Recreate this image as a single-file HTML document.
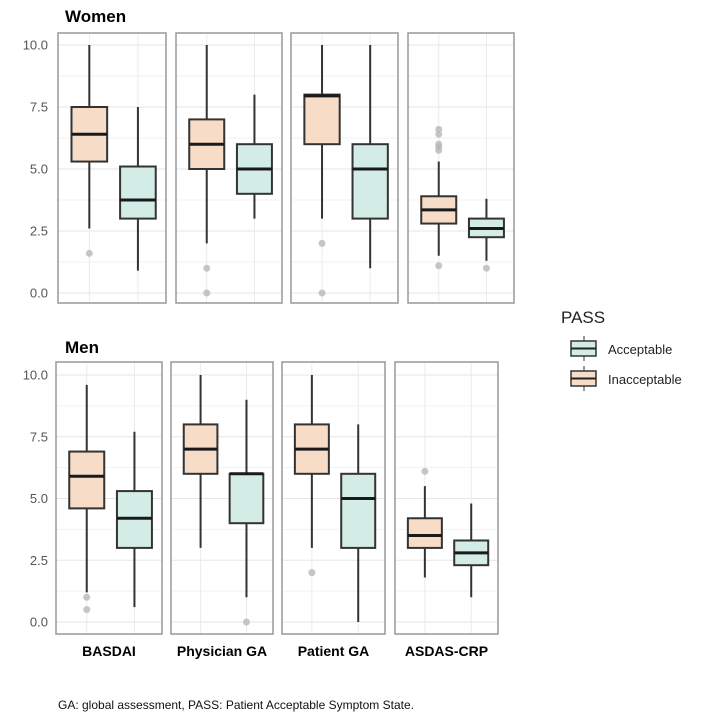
<!DOCTYPE html>
<html><head><meta charset="utf-8"><style>
body{margin:0;background:#fff;width:721px;height:717px;overflow:hidden;font-family:"Liberation Sans",sans-serif}
</style></head><body>
<svg id="chart" width="721" height="717" xmlns="http://www.w3.org/2000/svg">
<g id="plot"></g>
<text x="65" y="22" font-size="17" font-weight="bold">Women</text>
<text x="65" y="353" font-size="17" font-weight="bold">Men</text>
<g>
<text x="561" y="323" font-size="17" fill="#222">PASS</text>
<g>
<line x1="584" y1="336" x2="584" y2="361" stroke="#333"/>
<rect x="571" y="341" width="25" height="15" fill="#d4ece6" stroke="#333" stroke-width="1.5"/>
<line x1="571" y1="348.5" x2="596" y2="348.5" stroke="#222" stroke-width="2"/>
<text x="608" y="354" font-size="13" fill="#222">Acceptable</text></g>
<g>
<line x1="584" y1="366" x2="584" y2="391" stroke="#333"/>
<rect x="571" y="371" width="25" height="15" fill="#f7dcc8" stroke="#333" stroke-width="1.5"/>
<line x1="571" y1="378.5" x2="596" y2="378.5" stroke="#222" stroke-width="2"/>
<text x="608" y="384" font-size="13" fill="#222">Inacceptable</text></g>
</g>
<text x="58" y="709" font-size="12" fill="#111">GA: global assessment, PASS: Patient Acceptable Symptom State.</text>
</svg>
<script>
const categories=["BASDAI","Physician GA","Patient GA","ASDAS-CRP"];
const yTicks=[0,2.5,5,7.5,10];
const yTickLabels=["0.0","2.5","5.0","7.5","10.0"];
// [whiskerLow, q1, median, q3, whiskerHigh]
const womenInacc=[[2.6,5.3,6.4,7.5,10],[2,5,6,7,10],[3,6,7.95,8,10],[1.5,2.8,3.35,3.9,5.3]];
const womenAcc=[[0.9,3,3.75,5.1,7.5],[3,4,5,6,8],[1,3,5,6,10],[1.3,2.25,2.6,3,3.8]];
const womenInaccOut=[[1.6],[1,0],[2,0],[1.1,5.75,5.9,6.0,6.4,6.6]];
const womenAccOut=[[],[],[],[1.0]];
const menInacc=[[1.2,4.6,5.9,6.9,9.6],[3,6,7,8,10],[3,6,7,8,10],[1.8,3,3.5,4.2,5.5]];
const menAcc=[[0.6,3,4.2,5.3,7.7],[1,4,6,6,9],[0,3,5,6,8],[1,2.3,2.8,3.3,4.8]];
const menInaccOut=[[1.0,0.5],[],[2],[6.1]];
const menAccOut=[[],[0],[],[]];

const NS="http://www.w3.org/2000/svg";
const g=document.getElementById('plot');
function el(t,a,p){const e=document.createElementNS(NS,t);for(const k in a)e.setAttribute(k,a[k]);(p||g).appendChild(e);return e;}
const facets=[
 {name:'women',top:33,bot:303,y0:293,y10:45,panels:[[58,166],[176,282],[291,398],[408,514]],inacc:womenInacc,acc:womenAcc,io:womenInaccOut,ao:womenAccOut},
 {name:'men',top:362,bot:634,y0:622,y10:375,panels:[[56,162],[171,273],[282,385],[395,498]],inacc:menInacc,acc:menAcc,io:menInaccOut,ao:menAccOut}
];
facets.forEach(f=>{
 const ys=v=>f.y0+(f.y10-f.y0)*v/10;
 yTicks.forEach((t,i)=>{
  const tx=el('text',{x:48,y:ys(t)+4.5,'font-size':13,fill:'#555','text-anchor':'end'});
  tx.textContent=yTickLabels[i];
  
  
 });
 f.panels.forEach((p,ci)=>{
  const pg=el('g',{});
  
  
  const w=p[1]-p[0];
  const cx=[p[0]+w*0.29,p[0]+w*0.74];
  for(let v=0;v<=10;v+=1.25){el('line',{x1:p[0],x2:p[1],y1:ys(v),y2:ys(v),stroke:(v%2.5===0)?'#e6e6e6':'#f2f2f2','stroke-width':1},pg);}
  cx.forEach(x=>el('line',{x1:x,x2:x,y1:f.top,y2:f.bot,stroke:'#ebebeb'},pg));
  const bw=w*0.33;
  [[f.inacc[ci],f.io[ci],'#f7dcc8','inacceptable'],[f.acc[ci],f.ao[ci],'#d4ece6','acceptable']].forEach((s,k)=>{
   const d=s[0],x=cx[k];
   const bg=el('g',{},pg);
   
   
   el('line',{x1:x,x2:x,y1:ys(d[0]),y2:ys(d[4]),stroke:'#333','stroke-width':2},bg);
   el('rect',{x:x-bw/2,y:ys(d[3]),width:bw,height:ys(d[1])-ys(d[3]),fill:s[2],stroke:'#333','stroke-width':2},bg);
   el('line',{x1:x-bw/2,x2:x+bw/2,y1:ys(d[2]),y2:ys(d[2]),stroke:'#1a1a1a','stroke-width':3},bg);
   s[1].forEach(o=>{const c=el('circle',{cx:x,cy:ys(o),r:3.5,fill:'#b8b8b8','fill-opacity':0.8},bg);
    });
  });
  el('rect',{x:p[0],y:f.top,width:w,height:f.bot-f.top,fill:'none',stroke:'#999','stroke-width':1.5},pg);
  if(f.name==='men'){
   const tx=el('text',{x:(p[0]+p[1])/2,y:656,'font-size':14,'font-weight':'bold','text-anchor':'middle',fill:'#000'});
   tx.textContent=categories[ci];
   
   
  }
 });
});
</script>
</body></html>
